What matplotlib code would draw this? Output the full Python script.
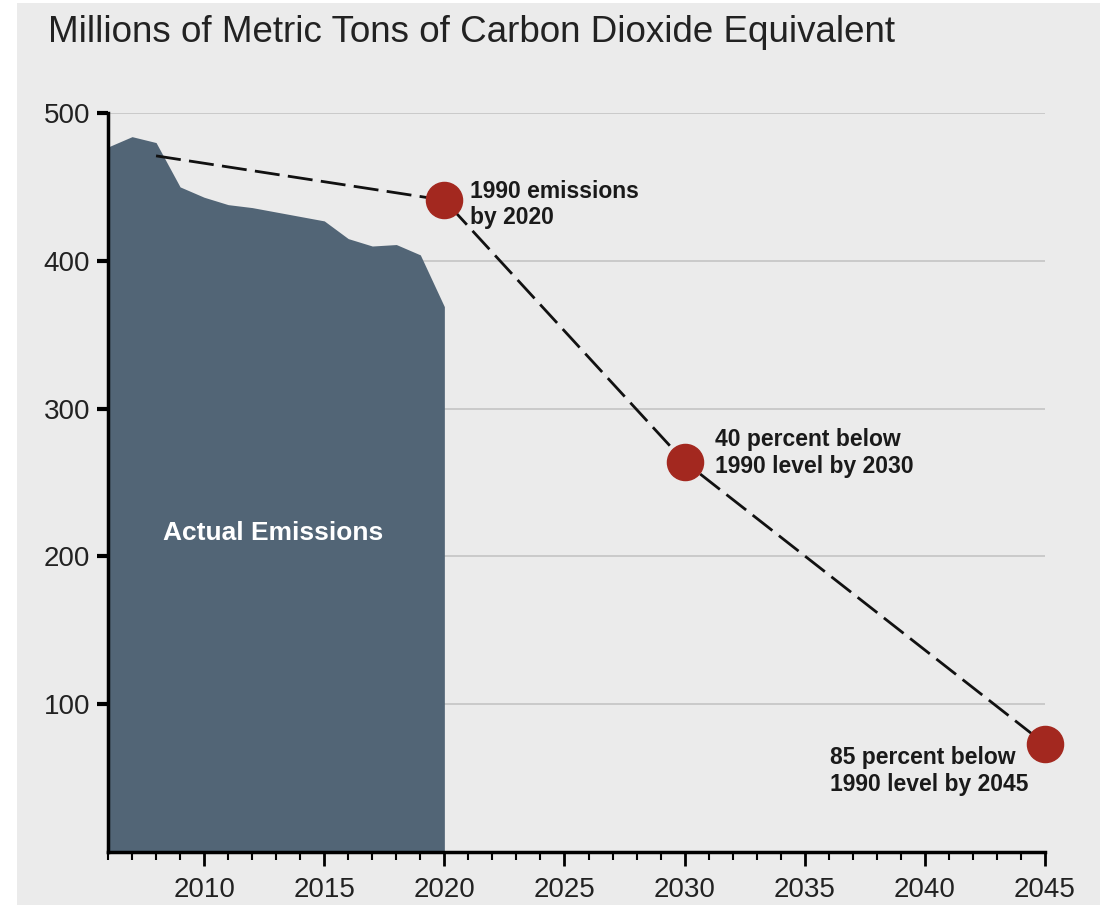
import matplotlib
matplotlib.use("Agg")
import matplotlib.pyplot as plt
from matplotlib.patches import Rectangle
from matplotlib.ticker import MultipleLocator

plt.rcParams['font.family'] = ['Liberation Sans', 'DejaVu Sans']

# Data
years = [2006, 2007, 2008, 2009, 2010, 2011, 2012, 2013, 2014, 2015, 2016, 2017, 2018, 2019, 2020]
emissions = [477, 484, 480, 450, 443, 438, 436, 433, 430, 427, 415, 410, 411, 404, 369]

target_years = [2020, 2030, 2045]
target_values = [441, 264, 73]
target_labels = ["1990 emissions\nby 2020", "40 percent below\n1990 level by 2030",
                 "85 percent below\n1990 level by 2045"]
path_years = [2008, 2020, 2030, 2045]
path_values = [471, 441, 264, 73]

xticks = [2010, 2015, 2020, 2025, 2030, 2035, 2040, 2045]
yticks = [100, 200, 300, 400, 500]

bg = "#ebebeb"
area_color = "#526576"
dot_color = "#a3281f"

fig = plt.figure(figsize=(11.04, 9.08), dpi=100)
fig.patch.set_facecolor("white")
fig.patches.append(Rectangle((17 / 1104, 3 / 908), (1100 - 17) / 1104, (905 - 3) / 908,
                             transform=fig.transFigure, facecolor=bg, edgecolor="none", zorder=-10))

ax = fig.add_axes([108 / 1104, (908 - 852) / 908, (1045 - 108) / 1104, (852 - 113) / 908])
ax.set_facecolor(bg)
ax.set_xlim(2006, 2045)
ax.set_ylim(0, 500)

for y in yticks:
    ax.axhline(y, color="#c4c4c4", lw=1.2, zorder=0)

ax.fill_between(years, emissions, 0, color=area_color, lw=0, zorder=2)
ax.text(2008.3, 216, "Actual Emissions", color="white", fontsize=19, fontweight="bold",
        ha="left", va="center", zorder=3)

ax.plot(path_years, path_values, color="#111111", lw=2, dashes=(9, 3), zorder=3)
ax.plot(target_years, target_values, "o", color=dot_color, markersize=26, zorder=4, clip_on=False)

tstyle = dict(fontsize=16.5, fontweight="bold", color="#1a1a1a", ha="left", va="center",
              linespacing=1.2)
ax.text(2021.05, 438, target_labels[0], **tstyle)
ax.text(2031.25, 270, target_labels[1], **tstyle)
ax.text(2036.05, 55, target_labels[2], **tstyle)

for s in ["top", "right"]:
    ax.spines[s].set_visible(False)
for s in ["left", "bottom"]:
    ax.spines[s].set_linewidth(2.5)
    ax.spines[s].set_color("black")

ax.set_xticks(xticks)
ax.xaxis.set_minor_locator(MultipleLocator(1))
ax.set_yticks(yticks)
ax.tick_params(axis="x", which="major", length=10, width=2, color="black", labelsize=20,
               pad=8, labelcolor="#222222")
ax.tick_params(axis="x", which="minor", length=6, width=1.5, color="black")
ax.tick_params(axis="y", which="major", length=8, width=3, color="black", labelsize=20,
               pad=5, labelcolor="#222222")

fig.text(48 / 1104, 1 - 33 / 908, "Millions of Metric Tons of Carbon Dioxide Equivalent",
         fontsize=26.5, color="#222222", ha="left", va="center")

fig.savefig("out.png", dpi=100, facecolor=fig.get_facecolor())
